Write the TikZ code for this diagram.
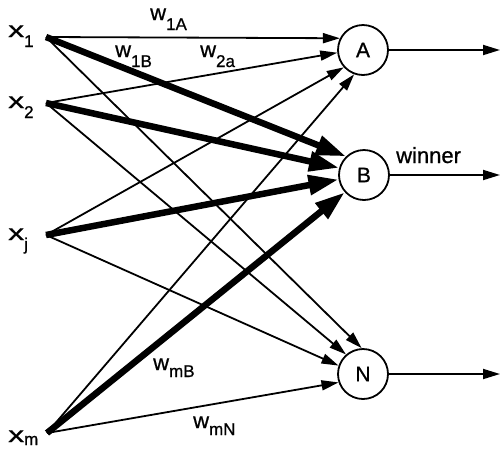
\documentclass[tikz,border=0pt]{standalone}
\usepackage{fontspec}
\usepackage{graphicx}
\setmainfont{Liberation Sans}[FakeBold=0.8]
\usetikzlibrary{arrows.meta}
\newcommand\mysub[2][-10pt]{\raisebox{#1}{\fontsize{17}{17}\selectfont #2}}
\newcommand\bigx{\scalebox{1.45}[1]{x}}
\begin{document}
\begin{tikzpicture}[x=1pt,y=-1pt,
  neuron/.style={circle,draw,line width=1.8pt,minimum size=50pt,inner sep=0pt,font=\fontsize{21}{24}\selectfont},
  wthin/.style={line width=1.8pt,-{Triangle[length=17pt,width=10pt]}},
  wthick/.style={line width=6.5pt,-{Triangle[length=30pt,width=19pt]}},
  lab/.style={font=\fontsize{22}{24}\selectfont,inner sep=0pt,anchor=base west}
]
\useasboundingbox (0,0) rectangle (501,448);
% inputs
\coordinate (x1) at (46,37);
\coordinate (x2) at (46,103);
\coordinate (xj) at (46,235);
\coordinate (xm) at (47,433);
% neurons
\node[neuron] (A) at (363,50) {A};
\node[neuron] (B) at (364,175) {B};
\node[neuron] (N) at (363,374) {N};
% outputs
\coordinate (oA) at (500,50);
\coordinate (oB) at (500,175);
\coordinate (oN) at (500,374);
% thin connections
\draw[wthin] (x1) -- (A.153);
\draw[wthin] (x2) -- (A.186);
\draw[wthin] (xj) -- (A.222);
\draw[wthin] (xm) -- (A.250);
\draw[wthin] (x1) -- (N.93);
\draw[wthin] (x2) -- (N.131);
\draw[wthin] (xj) -- (N.161);
\draw[wthin] (xm) -- (N.199);
% thick connections
\draw[wthick] (x1) -- (B.134);
\draw[wthick] (x2) -- (B.164);
\draw[wthick] (xj) -- (B.190);
\draw[wthick] (xm) -- (B.222);
% outputs
\draw[wthin] (A.east) -- (oA);
\draw[wthin] (B.east) -- (oB);
\draw[wthin] (N.east) -- (oN);
% labels
\node[lab] (l1) at (8,37) {\bigx\mysub{1}};
\node[lab] (l2) at (8,108) {\bigx\mysub{2}};
\node[lab] (lj) at (8,240) {\bigx\mysub{j}};
\node[lab] (lm) at (8,442) {\bigx\mysub[-3pt]{m}};
\node[lab] (w1A) at (150,20) {w\mysub{1A}};
\node[lab] (w1B) at (115,57) {w\mysub{1B}};
\node[lab] (w2a) at (200,57) {w\mysub{2a}};
\node[lab] (wmB) at (153,370) {w\mysub[-7pt]{mB}};
\node[lab] (wmN) at (193,428) {w\mysub[-7pt]{mN}};
\node[lab] (win) at (396,163) {winner};
\end{tikzpicture}
\end{document}
